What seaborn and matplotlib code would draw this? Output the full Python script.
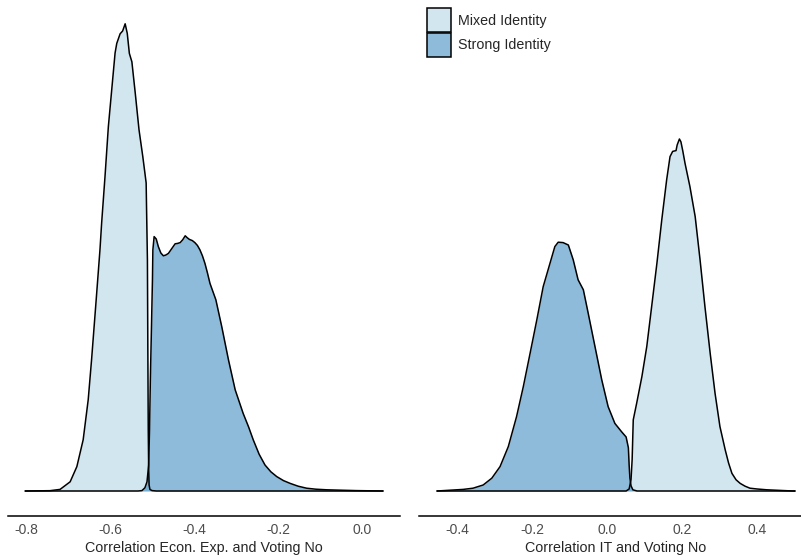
import numpy as np
import pandas as pd
import seaborn as sns
import matplotlib
matplotlib.use("Agg")
import matplotlib.pyplot as plt
from matplotlib.patches import Rectangle

# density curves (x = correlation, y = density)
econ_mixed_x = [-0.802, -0.743, -0.719, -0.695, -0.679, -0.664, -0.652, -0.644, -0.633, -0.624,
                -0.620, -0.612, -0.604, -0.596, -0.588, -0.584, -0.576, -0.570, -0.564, -0.559,
                -0.554, -0.548, -0.540, -0.531, -0.522, -0.517, -0.514, -0.513, -0.511, -0.510,
                -0.509, -0.508, -0.507, -0.505, -0.500, -0.490, -0.300, 0.050]
econ_mixed_y = [0.0, 0.008, 0.04, 0.23, 0.61, 1.28, 2.28, 3.28, 4.78, 6.03,
                6.70, 7.86, 9.11, 10.03, 10.95, 11.19, 11.43, 11.50, 11.68, 11.44,
                10.94, 10.73, 9.95, 9.03, 8.36, 7.95, 7.70, 7.03, 5.78, 3.53,
                1.53, 0.53, 0.15, 0.04, 0.01, 0.0, 0.0, 0.0]

econ_strong_x = [-0.802, -0.533, -0.524, -0.517, -0.512, -0.508, -0.506, -0.504, -0.501, -0.499,
                 -0.498, -0.495, -0.490, -0.485, -0.479, -0.473, -0.467, -0.461, -0.453, -0.445,
                 -0.439, -0.433, -0.427, -0.421, -0.416, -0.411, -0.404, -0.398, -0.392, -0.386,
                 -0.380, -0.374, -0.368, -0.362, -0.348, -0.334, -0.318, -0.302, -0.283, -0.270,
                 -0.259, -0.245, -0.231, -0.217, -0.203, -0.187, -0.171, -0.152, -0.132, -0.110,
                 -0.084, -0.050, -0.013, 0.050]
econ_strong_y = [0.0, 0.0, 0.01, 0.08, 0.23, 0.65, 1.53, 2.78, 4.28, 5.28,
                 6.03, 6.36, 6.30, 6.11, 5.95, 5.88, 5.90, 5.94, 6.06, 6.18,
                 6.19, 6.21, 6.28, 6.38, 6.33, 6.29, 6.26, 6.21, 6.14, 6.03,
                 5.88, 5.69, 5.45, 5.19, 4.78, 4.11, 3.28, 2.53, 1.94, 1.60,
                 1.28, 0.92, 0.65, 0.48, 0.36, 0.26, 0.19, 0.12, 0.07, 0.045,
                 0.03, 0.02, 0.01, 0.0]

it_mixed_x = [-0.453, 0.051, 0.059, 0.064, 0.067, 0.070, 0.079, 0.093, 0.106, 0.119,
              0.133, 0.146, 0.159, 0.168, 0.175, 0.184, 0.187, 0.193, 0.197, 0.202,
              0.208, 0.221, 0.235, 0.248, 0.261, 0.275, 0.288, 0.301, 0.315, 0.324,
              0.333, 0.344, 0.355, 0.368, 0.381, 0.400, 0.426, 0.496, 0.501]
it_mixed_y = [0.0, 0.0, 0.05, 0.28, 0.78, 1.78, 2.19, 2.86, 3.61, 4.61,
              5.69, 6.78, 7.78, 8.36, 8.49, 8.51, 8.65, 8.80, 8.73, 8.50,
              8.19, 7.61, 6.86, 5.78, 4.61, 3.44, 2.44, 1.61, 1.03, 0.70,
              0.44, 0.28, 0.19, 0.12, 0.07, 0.05, 0.03, 0.0, 0.0]

it_strong_x = [-0.453, -0.383, -0.357, -0.330, -0.307, -0.285, -0.263, -0.241, -0.223, -0.205,
               -0.187, -0.170, -0.152, -0.139, -0.130, -0.117, -0.103, -0.090, -0.077, -0.063,
               -0.050, -0.032, -0.014, 0.003, 0.021, 0.039, 0.051, 0.057, 0.059, 0.061,
               0.064, 0.069, 0.080, 0.501]
it_strong_y = [0.0, 0.04, 0.07, 0.15, 0.32, 0.61, 1.11, 1.86, 2.61, 3.44,
               4.28, 5.11, 5.69, 6.11, 6.22, 6.21, 6.15, 5.78, 5.28, 5.03,
               4.44, 3.61, 2.78, 2.11, 1.69, 1.48, 1.35, 1.08, 0.65, 0.33,
               0.13, 0.03, 0.0, 0.0]

groups = ["Mixed Identity", "Strong Identity"]
xlabels = ["Correlation Econ. Exp. and Voting No", "Correlation IT and Voting No"]
econ_ticks = [-0.8, -0.6, -0.4, -0.2, 0.0]
it_ticks = [-0.4, -0.2, 0.0, 0.2, 0.4]

sns.set_style("white")
plt.rcParams['font.family'] = ['Liberation Sans', 'DejaVu Sans']

pal = sns.color_palette("Paired")
colors = {groups[0]: pal[0], groups[1]: pal[1]}

W, H = 801, 555
fig = plt.figure(figsize=(W / 100, H / 100), dpi=100)
ax1 = fig.add_axes([8 / W, (H - 516) / H, 392 / W, 516 / H])
ax2 = fig.add_axes([419 / W, (H - 516) / H, 394 / W, 516 / H])

panels = [
    (ax1, [(econ_mixed_x, econ_mixed_y), (econ_strong_x, econ_strong_y)], econ_ticks, (-0.843, 0.0905)),
    (ax2, [(it_mixed_x, it_mixed_y), (it_strong_x, it_strong_y)], it_ticks, (-0.501, 0.549)),
]

for i, (ax, curves, ticks, xlim) in enumerate(panels):
    for g, (xs, ys) in zip(groups, curves):
        ax.fill_between(xs, 0, ys, color=colors[g], alpha=0.5, linewidth=0)
        df = pd.DataFrame({"x": xs, "y": ys})
        sns.lineplot(data=df, x="x", y="y", color="black", linewidth=1.1,
                     estimator=None, sort=False, ax=ax)
    ax.set_xlim(*xlim)
    ax.set_ylim(-0.625, 12.275)
    ax.set_xticks(ticks)
    ax.set_xticklabels(["{:.1f}".format(t).replace("-0.0", "0.0") for t in ticks])
    ax.tick_params(axis="x", length=0, pad=5, labelsize=10, labelcolor="#4d4d4d")
    ax.set_yticks([])
    ax.set_ylabel("")
    ax.set_xlabel(xlabels[i], fontsize=10.3, labelpad=3)
    sns.despine(ax=ax, left=True)
    ax.spines["bottom"].set_linewidth(1.1)
    ax.spines["bottom"].set_color("black")
    ax.set_facecolor("none")

# legend: stacked square keys, drawn in figure pixels
for k, g in enumerate(groups):
    top = 8 + 25 * k
    c = colors[g]
    fig.add_artist(Rectangle((427 / W, 1 - (top + 24) / H), 24 / W, 24 / H,
                             transform=fig.transFigure, facecolor=(c[0], c[1], c[2], 0.5),
                             edgecolor="black", linewidth=1.1))
    fig.text(458 / W, 1 - (top + 12.5) / H, g, fontsize=10.3, va="center", ha="left")

fig.savefig("out.png", dpi=100)
